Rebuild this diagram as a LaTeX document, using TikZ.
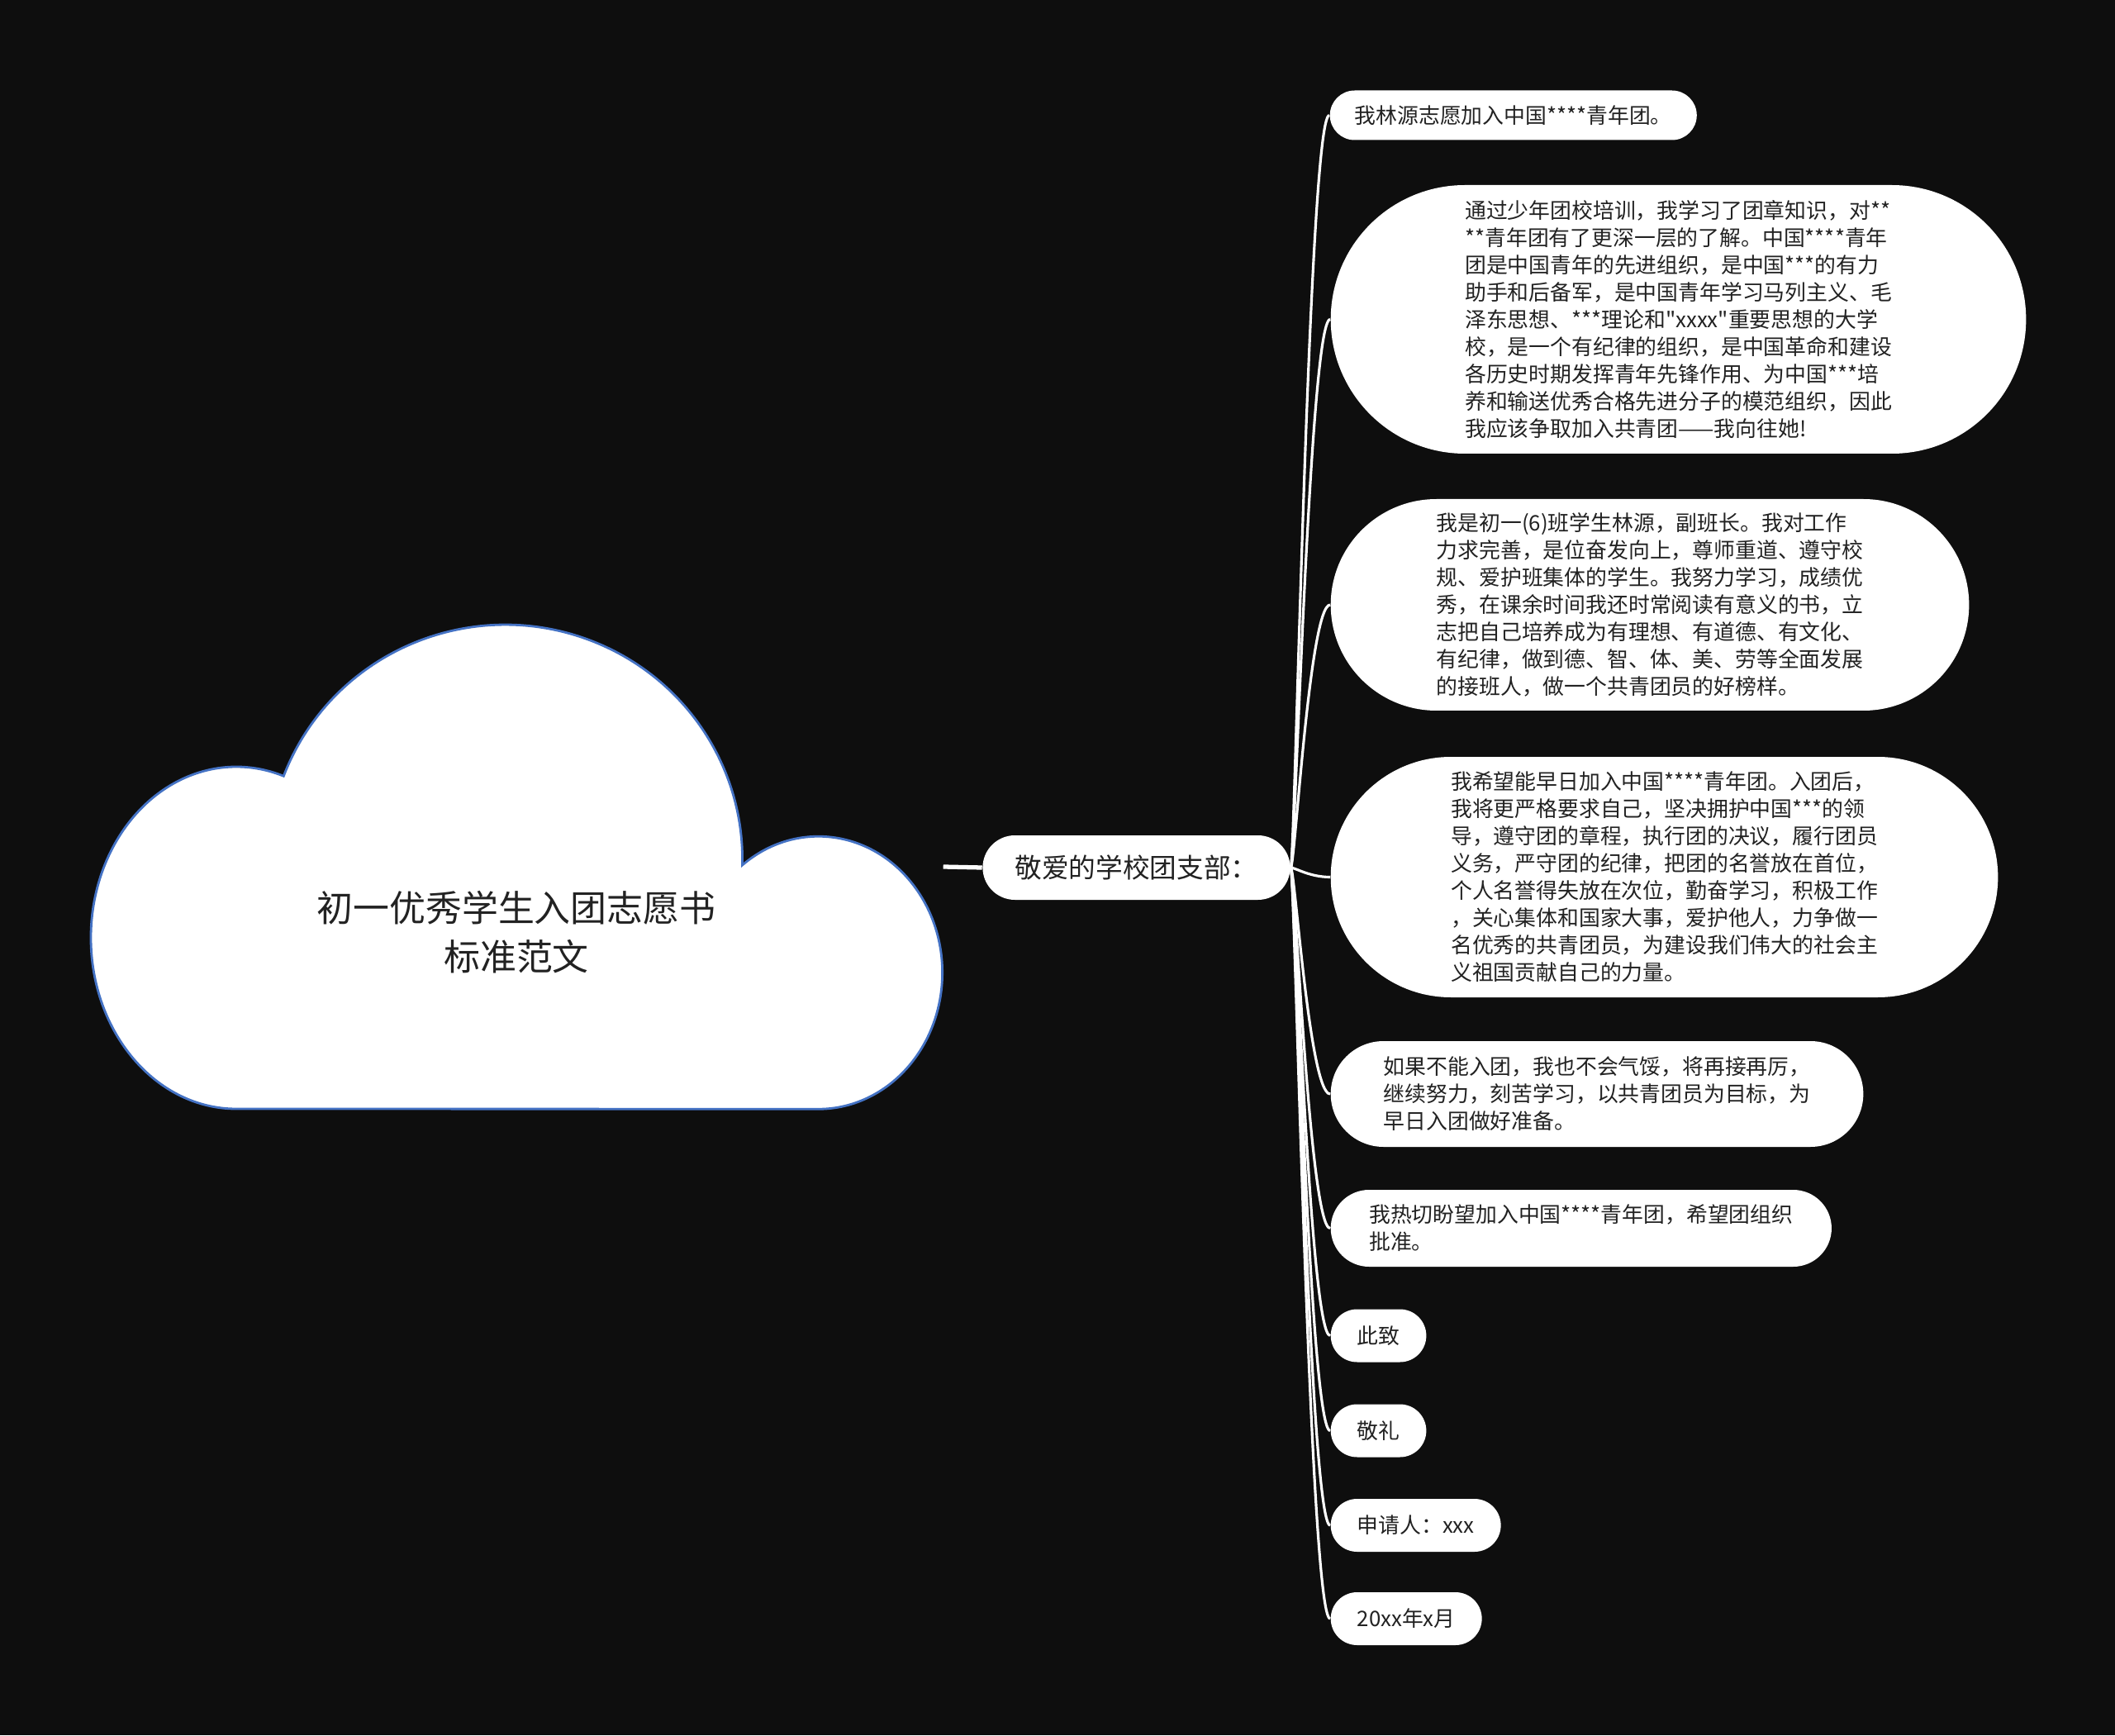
\documentclass[tikz,border=0pt]{standalone}
\usepackage{fontspec}
\setmainfont{Noto Sans CJK SC}[Ligatures=TeXOff]

\definecolor{bgdark}{RGB}{14,14,14}
\definecolor{cloudline}{RGB}{68,114,196}
\definecolor{inkgray}{RGB}{34,34,34}

\tikzset{
  leaf/.style={rectangle, rounded corners=#1, inner xsep=#1, inner ysep=0.05cm,
    minimum height=2*#1, fill=white, text=inkgray, anchor=west, align=left,
    font=\fontsize{7.35pt}{9.4pt}\selectfont},
  hub/.style={rectangle, rounded corners=0.39cm, inner xsep=0.39cm, inner ysep=0.05cm,
    minimum height=0.78cm, fill=white, text=inkgray, font=\fontsize{9.3pt}{11pt}\selectfont},
  branch/.style={white, line width=0.9pt,
    to path={.. controls +(0.05,0) and +(-0.25,0) .. (\tikztotarget)}},
}

\begin{document}
\begin{tikzpicture}
    \fill[bgdark] (0,0) rectangle (25.6,21);
    \useasboundingbox (0,0) rectangle (25.6,21);
    % cloud
    \filldraw[fill=white, draw=cloudline, line width=0.8pt] (2.86,7.58)
      arc[start angle=270, end angle=71, x radius=1.76cm, y radius=2.07cm]
      arc[start angle=159.2, end angle=-1.4, x radius=2.87cm, y radius=2.84cm]
      arc[start angle=127.9, end angle=-90, x radius=1.50cm, y radius=1.65cm]
      -- cycle;
    \node (root) [minimum width=10.30cm, minimum height=5.86cm, inner sep=0pt] at (6.26,10.51) {};
    \node (title) [text=inkgray, align=center, font=\fontsize{12.5pt}{16.8pt}\selectfont] at (6.25,9.72) {初一优秀学生入团志愿书\\标准范文};
    \node (hub) [hub] at (13.755,10.50) {敬爱的学校团支部：};
    \node (l1) [leaf=0.30cm] at (16.09,19.605) {我林源志愿加入中国****青年团。};
    \node (l2) [leaf=1.625cm] at (16.10,17.135) {通过少年团校培训，我学习了团章知识，对**\\
      **青年团有了更深一层的了解。中国****青年\\
      团是中国青年的先进组织，是中国***的有力\\
      助手和后备军，是中国青年学习马列主义、毛\\
      泽东思想、***理论和"xxxx"重要思想的大学\\
      校，是一个有纪律的组织，是中国革命和建设\\
      各历史时期发挥青年先锋作用、为中国***培\\
      养和输送优秀合格先进分子的模范组织，因此\\
      我应该争取加入共青团——我向往她!};
    \node (l3) [leaf=1.28cm] at (16.10,13.68) {我是初一(6)班学生林源，副班长。我对工作\\
      力求完善，是位奋发向上，尊师重道、遵守校\\
      规、爱护班集体的学生。我努力学习，成绩优\\
      秀，在课余时间我还时常阅读有意义的书，立\\
      志把自己培养成为有理想、有道德、有文化、\\
      有纪律，做到德、智、体、美、劳等全面发展\\
      的接班人，做一个共青团员的好榜样。};
    \node (l4) [leaf=1.455cm] at (16.10,10.385) {我希望能早日加入中国****青年团。入团后，\\
      我将更严格要求自己，坚决拥护中国***的领\\
      导，遵守团的章程，执行团的决议，履行团员\\
      义务，严守团的纪律，把团的名誉放在首位，\\
      个人名誉得失放在次位，勤奋学习，积极工作\\
      ，关心集体和国家大事，爱护他人，力争做一\\
      名优秀的共青团员，为建设我们伟大的社会主\\
      义祖国贡献自己的力量。};
    \node (l5) [leaf=0.64cm] at (16.10,7.76) {如果不能入团，我也不会气馁，将再接再厉，\\
      继续努力，刻苦学习，以共青团员为目标，为\\
      早日入团做好准备。};
    \node (l6) [leaf=0.465cm] at (16.10,6.135) {我热切盼望加入中国****青年团，希望团组织\\
      批准。};
    \node (l7) [leaf=0.32cm] at (16.10,4.835) {此致};
    \node (l8) [leaf=0.32cm] at (16.10,3.685) {敬礼};
    \node (l9) [leaf=0.32cm] at (16.10,2.54) {申请人：xxx};
    \node (l10) [leaf=0.32cm] at (16.10,1.41) {20xx年x月};
    %
    \draw[white, line width=1.5pt] (root.east) -- (hub.west);
    \foreach \i in {1,...,10}
      \draw[branch] (hub.east) to (l\i.west);
\end{tikzpicture}
\end{document}
